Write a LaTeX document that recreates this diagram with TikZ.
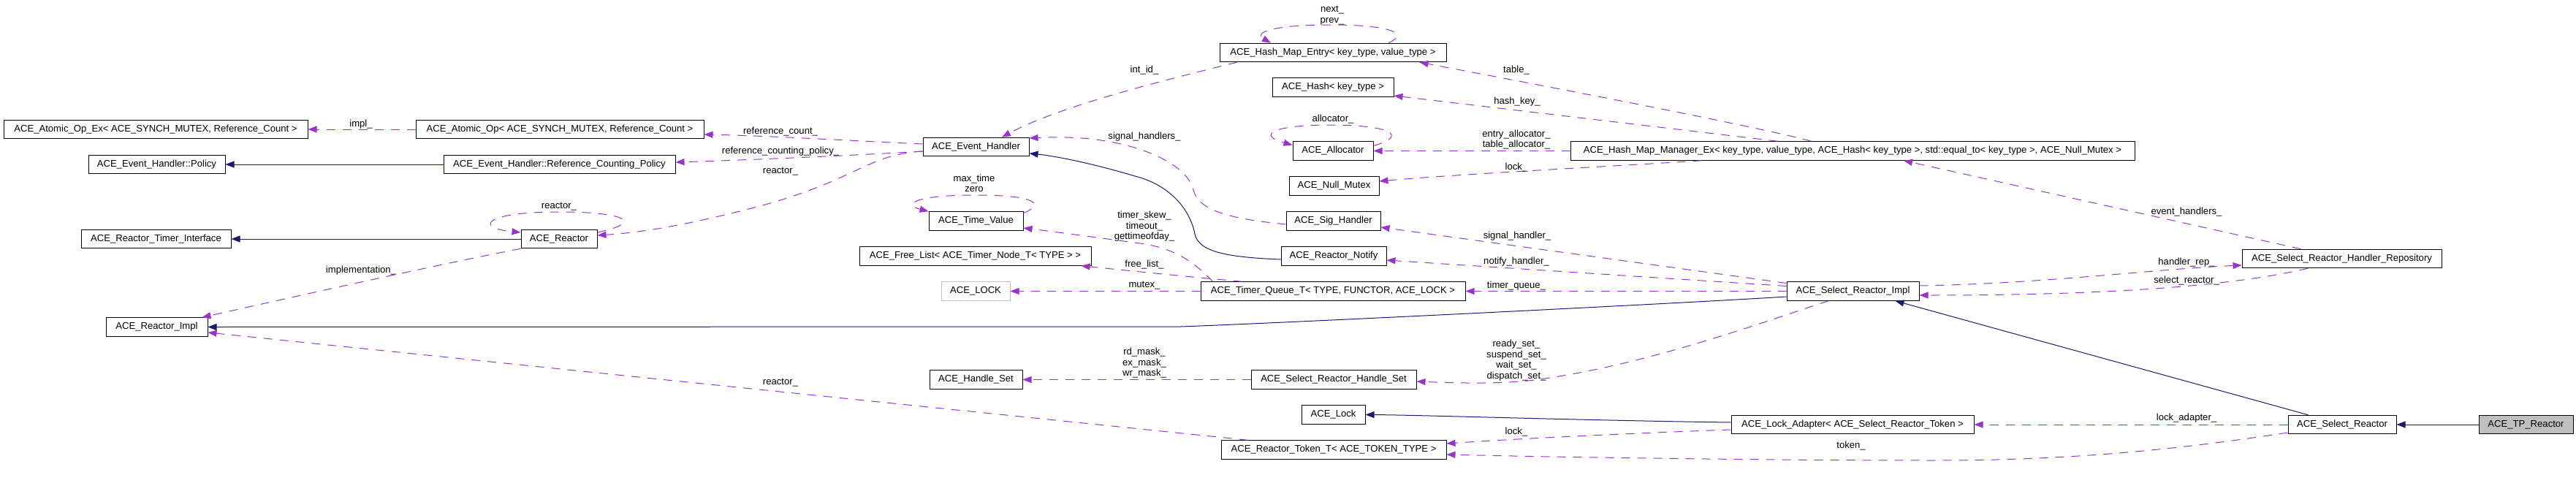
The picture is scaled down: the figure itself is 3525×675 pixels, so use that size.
\documentclass[tikz,border=0pt]{standalone}
\usepackage{fontspec}
\setmainfont{Liberation Sans}
\usetikzlibrary{arrows.meta}
\definecolor{navyc}{HTML}{191970}
\definecolor{purpc}{HTML}{9A32CD}
\definecolor{grayc}{HTML}{BFBFBF}
\newcommand\dgfont{\fontsize{13.1}{14.5}\selectfont}
\begin{document}
\begin{tikzpicture}[x=1pt, y=-1pt,
  cls/.style={draw=black, line width=1pt, fill=white, inner sep=0pt, minimum height=25.5pt, font=\dgfont, text=black},
  lbl/.style={inner sep=0pt, font=\dgfont, align=center, text=black},
  inhline/.style={draw=navyc, line width=1pt, -{Triangle[length=12pt,width=9pt]}, fill=none},
  useline/.style={draw=purpc, line width=1pt, dash pattern=on 12pt off 10pt, -{Triangle[length=12pt,width=9pt,fill=purpc]}}]
\useasboundingbox (0,0) rectangle (3525,675);
% column 1
\node[cls, minimum width=416pt] (atomicex) at (213,177) {ACE\_Atomic\_Op\_Ex< ACE\_SYNCH\_MUTEX, Reference\_Count >};
\node[cls, minimum width=187pt] (policy) at (214.5,225) {ACE\_Event\_Handler::Policy};
\node[cls, minimum width=205pt] (timerif) at (213.5,327) {ACE\_Reactor\_Timer\_Interface};
\node[cls, minimum width=139pt] (rimpl) at (214.5,447.5) {ACE\_Reactor\_Impl};
% column 2
\node[cls, minimum width=394pt] (atomic) at (766,177) {ACE\_Atomic\_Op< ACE\_SYNCH\_MUTEX, Reference\_Count >};
\node[cls, minimum width=317pt] (rcpolicy) at (765.5,225) {ACE\_Event\_Handler::Reference\_Counting\_Policy};
\node[cls, minimum width=104pt] (reactor) at (765,327) {ACE\_Reactor};
% column 3
\node[cls, minimum width=145pt] (evh) at (1335.5,201) {ACE\_Event\_Handler};
\node[cls, minimum width=129pt] (timeval) at (1335.5,302.5) {ACE\_Time\_Value};
\node[cls, minimum width=317pt] (freelist) at (1334.5,350.5) {ACE\_Free\_List< ACE\_Timer\_Node\_T< TYPE > >};
\node[cls, draw=grayc, minimum width=94pt] (acelock) at (1335,398.5) {ACE\_LOCK};
\node[cls, minimum width=127pt] (handleset) at (1335.5,519.5) {ACE\_Handle\_Set};
% column 4
\node[cls, minimum width=310pt] (hmentry) at (1824,72) {ACE\_Hash\_Map\_Entry< key\_type, value\_type >};
\node[cls, minimum width=166pt] (hash) at (1824,119.5) {ACE\_Hash< key\_type >};
\node[cls, minimum width=110pt] (alloc) at (1824,206.5) {ACE\_Allocator};
\node[cls, minimum width=123pt] (nullmutex) at (1825.5,254.5) {ACE\_Null\_Mutex};
\node[cls, minimum width=129pt] (sighandler) at (1824.5,302.5) {ACE\_Sig\_Handler};
\node[cls, minimum width=144pt] (notify) at (1825,350.5) {ACE\_Reactor\_Notify};
\node[cls, minimum width=362pt] (tq) at (1824,398.5) {ACE\_Timer\_Queue\_T< TYPE, FUNCTOR, ACE\_LOCK >};
\node[cls, minimum width=226pt] (srhs) at (1825,519.5) {ACE\_Select\_Reactor\_Handle\_Set};
\node[cls, minimum width=87pt] (lock) at (1824.5,567.5) {ACE\_Lock};
\node[cls, minimum width=308pt] (token) at (1825,615.5) {ACE\_Reactor\_Token\_T< ACE\_TOKEN\_TYPE >};
% column 5
\node[cls, minimum width=772pt] (hmm) at (2535,206.5) {ACE\_Hash\_Map\_Manager\_Ex< key\_type, value\_type, ACE\_Hash< key\_type >, std::equal\_to< key\_type >, ACE\_Null\_Mutex >};
\node[cls, minimum width=181pt] (srimpl) at (2535.5,398.5) {ACE\_Select\_Reactor\_Impl};
\node[cls, minimum width=332pt] (lockadapter) at (2535,581) {ACE\_Lock\_Adapter< ACE\_Select\_Reactor\_Token >};
% column 6/7
\node[cls, minimum width=273pt] (repo) at (3204.5,354) {ACE\_Select\_Reactor\_Handler\_Repository};
\node[cls, minimum width=148pt] (sr) at (3205,581) {ACE\_Select\_Reactor};
\node[cls, fill=grayc, minimum width=129pt] (tp) at (3456.5,581) {ACE\_TP\_Reactor};

% inheritance
\draw[inhline] (rcpolicy.west) -- (policy.east);
\draw[inhline] (reactor.west) -- (timerif.east);
\draw[inhline] ([yshift=-7.5pt]srimpl.west) .. controls (2300,415) and (1800,440) .. (1616,447) -- (rimpl.east);
\draw[inhline] ([xshift=28pt]sr.north west) -- ([xshift=-33pt]srimpl.south east);
\draw[inhline] (tp.west) -- (sr.east);
\draw[inhline] ([yshift=3pt]lockadapter.west) .. controls (2150,575) and (1950,568) .. (lock.east);
\draw[inhline] ([yshift=-4.5pt]notify.west) .. controls (1680,352) and (1640,345) .. (1635,320) .. controls (1628,285) and (1600,255) .. (1560,243) .. controls (1490,222) and (1440,213) .. ([yshift=-9pt]evh.east);

% usage
\draw[useline] (atomic.west) -- (atomicex.east);
\draw[useline] ([yshift=4pt]evh.west) .. controls (1190,194) and (1060,186) .. ([yshift=-7pt]atomic.east);
\draw[useline] ([yshift=-6pt]evh.west) .. controls (1180,212) and (1050,218) .. ([yshift=3pt]rcpolicy.east);
\draw[useline] ([yshift=-6pt]evh.west) .. controls (1185,212) and (1175,245) .. (1040,282) .. controls (940,308) and (880,318) .. ([yshift=5pt]reactor.east);
\draw[useline] ([yshift=9pt]reactor.east) .. controls (880,305) and (860,290) .. (765,290) .. controls (660,290) and (650,312) .. ([yshift=9pt]reactor.west);
\draw[useline] (reactor.south west) .. controls (600,362) and (430,400) .. ([xshift=-8pt]rimpl.north east);
\draw[useline] ([xshift=37pt]token.north west) -- ([yshift=-7.5pt]rimpl.east);
\draw[useline] ([xshift=24pt]hmentry.south west) .. controls (1600,108) and (1450,145) .. ([xshift=35.5pt]evh.north);
\draw[useline] ([xshift=76pt]hmentry.north) .. controls (1930,45) and (1900,34) .. (1820,34) .. controls (1740,34) and (1715,45) .. ([xshift=-85pt]hmentry.north);
\draw[useline] ([xshift=330pt]hmm.north west) .. controls (2400,172) and (2100,115) .. ([xshift=-37pt]hmentry.south east);
\draw[useline] ([xshift=284pt]hmm.north west) -- ([yshift=-11.5pt]hash.east);
\draw[useline] (hmm.west) -- (alloc.east);
\draw[useline] ([yshift=7pt]alloc.east) .. controls (1930,185) and (1900,171) .. (1820,171) .. controls (1740,171) and (1720,185) .. ([yshift=8pt]alloc.west);
\draw[useline] ([xshift=180pt]hmm.south west) .. controls (2200,228) and (2000,238) .. ([yshift=6.5pt]nullmutex.east);
\draw[useline] ([yshift=11pt]srimpl.west) -- ([yshift=-8.5pt]sighandler.east);
\draw[useline] ([yshift=7pt]srimpl.west) -- ([yshift=-5.5pt]notify.east);
\draw[useline] (srimpl.west) -- (tq.east);
\draw[useline] ([xshift=-33.5pt]srimpl.south) .. controls (2400,445) and (2250,500) .. (2100,520) .. controls (2050,526) and (1990,524) .. ([yshift=-2.5pt]srhs.east);
\draw[useline] (tq.west) -- (acelock.east);
\draw[useline] ([xshift=57pt]tq.north west) .. controls (1640,380) and (1560,372) .. ([xshift=-14pt]freelist.south east);
\draw[useline] ([xshift=17pt]tq.north west) .. controls (1635,360) and (1610,340) .. (1560,333) .. controls (1500,325) and (1450,318) .. ([yshift=-9.5pt]timeval.east);
\draw[useline] ([yshift=11pt]timeval.east) .. controls (1430,280) and (1420,267) .. (1335,267) .. controls (1250,267) and (1235,280) .. (timeval.north west);
\draw[useline] (srhs.west) -- (handleset.east);
\draw[useline] ([yshift=-4.5pt]sighandler.west) .. controls (1690,300) and (1640,290) .. (1633,260) .. controls (1625,225) and (1560,195) .. (1480,189) .. controls (1450,187) and (1430,188) .. ([yshift=12pt]evh.east);
\draw[useline] ([yshift=-7pt]lockadapter.west) .. controls (2200,594) and (2050,602) .. ([yshift=8.5pt]token.east);
\draw[useline] ([yshift=-11pt]sr.west) .. controls (3000,612) and (2850,630) .. (2650,630) .. controls (2400,630) and (2100,625) .. ([yshift=-6.5pt]token.east);
\draw[useline] (sr.west) -- (lockadapter.east);
\draw[useline] ([xshift=-46.5pt]repo.south) .. controls (3060,390) and (2900,404) .. ([yshift=-5.5pt]srimpl.east);
\draw[useline] ([yshift=7.5pt]srimpl.east) .. controls (2800,388) and (2950,368) .. ([yshift=-9pt]repo.west);
\draw[useline] ([xshift=-56pt]repo.north) -- ([xshift=70pt]hmm.south);

% labels
\node[lbl] (l1) at (494,170) {impl\_};
\node[lbl] (l2) at (1068,180) {reference\_count\_};
\node[lbl] (l3) at (1068,207) {reference\_counting\_policy\_};
\node[lbl] (l4) at (1068,235) {reactor\_};
\node[lbl] (l5) at (765,283) {reactor\_};
\node[lbl] (l6) at (494,370) {implementation\_};
\node[lbl] (l7) at (1068,524) {reactor\_};
\node[lbl] (l8) at (1566,96) {int\_id\_};
\node[lbl] (l9) at (1566,187) {signal\_handlers\_};
\node[lbl] (l10) at (1333,251) {max\_time\\zero};
\node[lbl] (l11) at (1566,310) {timer\_skew\_\\timeout\_\\gettimeofday\_};
\node[lbl] (l12) at (1566,362) {free\_list\_};
\node[lbl] (l13) at (1566,391) {mutex\_};
\node[lbl] (l14) at (1566,497) {rd\_mask\_\\ex\_mask\_\\wr\_mask\_};
\node[lbl] (l15) at (1823,21) {next\_\\prev\_};
\node[lbl] (l16) at (2075,96) {table\_};
\node[lbl] (l17) at (2076,139) {hash\_key\_};
\node[lbl] (l18) at (1824,163) {allocator\_};
\node[lbl] (l19) at (2075,191) {entry\_allocator\_\\table\_allocator\_};
\node[lbl] (l20) at (2075,229) {lock\_};
\node[lbl] (l21) at (2076,323) {signal\_handler\_};
\node[lbl] (l22) at (2075,358) {notify\_handler\_};
\node[lbl] (l23) at (2075,391) {timer\_queue\_};
\node[lbl] (l24) at (2075,493) {ready\_set\_\\suspend\_set\_\\wait\_set\_\\dispatch\_set\_};
\node[lbl] (l25) at (2075,591) {lock\_};
\node[lbl] (l26) at (2533,610) {token\_};
\node[lbl] (l27) at (2992,290) {event\_handlers\_};
\node[lbl] (l28) at (2992,359) {handler\_rep\_};
\node[lbl] (l29) at (2992,384) {select\_reactor\_};
\node[lbl] (l30) at (2992,572) {lock\_adapter\_};
\end{tikzpicture}
\end{document}
